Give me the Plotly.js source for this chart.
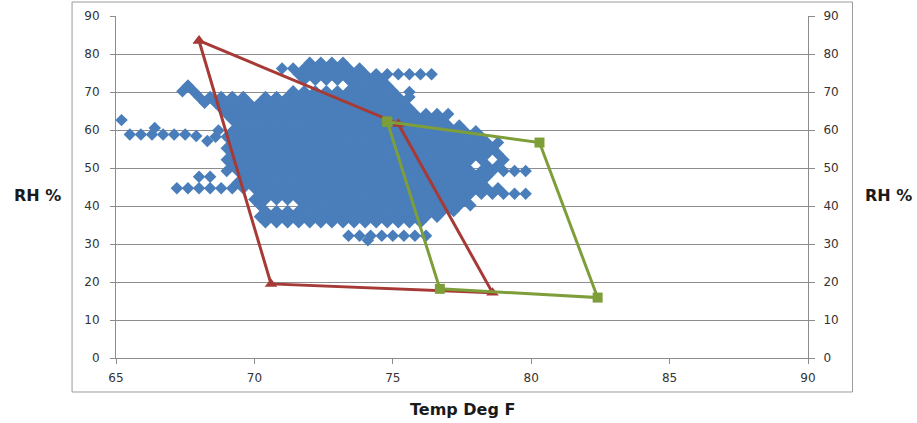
<!DOCTYPE html>
<html>
<head>
<meta charset="utf-8">
<script src="https://cdn.plot.ly/plotly-3.0.1.min.js"></script>
<style>html,body{margin:0;padding:0;background:#fff;}#chart{width:917px;height:423px;}</style>
</head>
<body>
<div id="chart"></div>
<script>
// Blue logged readings, one row per RH level: RH value and the temperatures seen at that level
const cloudRH = [77.7, 76.2, 74.7, 73.2, 71.7, 70.2, 68.7, 67.2, 65.7, 64.2, 62.7, 61.2, 59.7, 58.2, 56.7, 55.2, 53.7, 52.2, 50.7, 49.2, 47.7, 46.2, 44.7, 43.2, 41.7, 40.2, 38.7, 37.2, 35.7, 32.2];
const cloudTemps = [
  "72.0 72.4 72.8 73.2",
  "71.0 71.4 71.8 72.2 72.6 73.0 73.4 73.8",
  "71.6 72.0 72.4 72.8 73.2 73.6 74.0 74.4 74.8 75.2 75.6 76.0 76.4",
  "71.8 72.2 72.6 73.0 73.4 73.8 74.2 74.6",
  "67.6 73.6 74.0 74.4 74.8",
  "67.4 67.8 71.4 71.8 72.2 72.6 73.0 73.4 73.8 74.2 74.6 75.0",
  "68.0 68.4 68.8 69.2 69.6 70.4 70.8 71.2 71.6 72.0 72.4 72.8 73.2 73.6 74.0 74.4 74.8 75.2 75.6",
  "68.2 68.6 69.0 69.4 69.8 70.2 70.6 71.0 71.4 71.8 72.2 72.6 73.0 73.4 73.8 74.2 74.6 75.0 75.4",
  "68.8 69.2 69.6 70.0 70.4 70.8 71.2 71.6 72.0 72.4 72.8 73.2 73.6 74.0 74.4 74.8 75.2 75.6",
  "69.0 69.4 69.8 70.2 70.6 71.0 71.4 71.8 72.2 72.6 73.0 73.4 73.8 74.2 74.6 75.0 75.4 75.8 76.2 76.6 77.0",
  "69.2 69.6 70.0 70.4 70.8 71.2 71.6 72.0 72.4 72.8 73.2 73.6 74.0 74.4 74.8 75.2 75.6 76.0 76.4 76.8",
  "69.4 69.8 70.2 70.6 71.0 71.4 71.8 72.2 72.6 73.0 73.4 73.8 74.2 74.6 75.0 75.4 75.8 76.2 76.6 77.0 77.4",
  "69.2 69.6 70.0 70.4 70.8 71.2 71.6 72.0 72.4 72.8 73.2 73.6 74.0 74.4 74.8 75.2 75.6 76.0 76.4 76.8 77.2 77.6 78.0",
  "68.6 69.0 69.4 69.8 70.2 70.6 71.0 71.4 71.8 72.2 72.6 73.0 73.4 73.8 74.2 74.6 75.0 75.4 75.8 76.2 76.6 77.0 77.4 77.8 78.2",
  "69.2 69.6 70.0 70.4 70.8 71.2 71.6 72.0 72.4 72.8 73.2 73.6 74.0 74.4 74.8 75.2 75.6 76.0 76.4 76.8 77.2 77.6 78.0 78.4 78.8",
  "69.0 69.4 69.8 70.2 70.6 71.0 71.4 71.8 72.2 72.6 73.0 73.4 73.8 74.2 74.6 75.0 75.4 75.8 76.2 76.6 77.0 77.4 77.8 78.2 78.6",
  "69.2 69.6 70.0 70.4 70.8 71.2 71.6 72.0 72.4 72.8 73.2 73.6 74.0 74.4 74.8 75.2 75.6 76.0 76.4 76.8 77.2 77.6 78.0 78.4 78.8",
  "69.0 69.4 69.8 70.2 70.6 71.0 71.4 71.8 72.2 72.6 73.0 73.4 73.8 74.2 74.6 75.0 75.4 75.8 76.2 76.6 77.0 77.4 77.8 78.2 79.0",
  "69.2 69.6 70.0 70.4 70.8 71.2 71.6 72.0 72.4 72.8 73.2 73.6 74.0 74.4 74.8 75.2 75.6 76.0 76.4 76.8 77.2 77.6 78.4 78.8",
  "69.0 69.4 69.8 70.2 70.6 71.0 71.4 71.8 72.2 72.6 73.0 73.4 73.8 74.2 74.6 75.0 75.4 75.8 76.2 76.6 77.0 77.4 77.8 78.2 78.6 79.0 79.4 79.8",
  "68.0 68.4 69.6 70.0 70.4 70.8 71.2 71.6 72.0 72.4 72.8 73.2 73.6 74.0 74.4 74.8 75.2 75.6 76.0 76.4 76.8 77.2 77.6 78.0 78.4",
  "69.4 69.8 70.2 70.6 71.0 71.4 71.8 72.2 72.6 73.0 73.4 73.8 74.2 74.6 75.0 75.4 75.8 76.2 76.6 77.0 77.4 77.8 78.2",
  "67.2 67.6 68.0 68.4 68.8 69.2 69.6 70.0 70.4 70.8 71.2 71.6 72.0 72.4 72.8 73.2 73.6 74.0 74.4 74.8 75.2 75.6 76.0 76.4 76.8 77.2 77.6 78.0 78.4 78.8",
  "70.2 70.6 71.0 71.4 71.8 72.2 72.6 73.0 73.4 73.8 74.2 74.6 75.0 75.4 75.8 76.2 76.6 77.0 77.4 77.8 78.2 78.6 79.0 79.4 79.8",
  "70.0 70.4 70.8 71.2 71.6 72.0 72.4 72.8 73.2 73.6 74.0 74.4 74.8 75.2 75.6 76.0 76.4 76.8 77.2 77.6",
  "70.2 71.8 72.2 72.6 73.0 73.4 73.8 74.2 74.6 75.0 75.4 75.8 76.2 76.6 77.0 77.4 77.8",
  "70.4 70.8 71.2 71.6 72.0 72.4 72.8 73.2 73.6 74.0 74.4 74.8 75.2 75.6 76.0 76.4 76.8 77.2",
  "70.2 70.6 71.0 71.4 71.8 72.2 72.6 73.0 73.4 73.8 74.2 74.6 75.0 75.4 75.8 76.2 76.6",
  "70.4 70.8 71.2 71.6 72.0 72.4 72.8 73.2 73.6 74.0 74.4 74.8 75.2 75.6 76.0",
  "73.4 73.8 74.2 74.6 75.0 75.4 75.8 76.2"
];
// Isolated readings outside the rows
const extraTemp = [65.2, 66.4, 65.5, 65.9, 66.3, 66.7, 67.1, 67.5, 67.9, 68.3, 68.7, 75.6, 74.1];
const extraRH   = [62.6, 60.5, 58.8, 58.8, 58.8, 58.8, 58.8, 58.8, 58.4, 57.1, 59.9, 70.0, 31.0];

// Red comfort zone polygon (closed)
const redTemp = [68.0, 75.2, 78.6, 70.6, 68.0];
const redRH   = [83.5, 61.6, 17.2, 19.5, 83.5];
// Green comfort zone polygon (closed)
const greenTemp = [74.8, 80.3, 82.4, 76.7, 74.8];
const greenRH   = [62.2, 56.7, 15.9, 18.2, 62.2];

// Axis ticks
const xTicks = [65, 70, 75, 80, 85, 90];
const yTicks = [0, 10, 20, 30, 40, 50, 60, 70, 80, 90];

const cx = [], cy = [];
cloudRH.forEach((rh, i) => {
  cloudTemps[i].split(" ").forEach(t => { cx.push(parseFloat(t)); cy.push(rh); });
});
extraTemp.forEach((t, i) => { cx.push(t); cy.push(extraRH[i]); });

const gridCol = '#8c8c8c';
const tickFont = {family: 'DejaVu Sans, sans-serif', size: 12, color: '#333333'};
const titleFont = {family: 'DejaVu Sans, sans-serif', size: 16, color: '#1a1a1a', weight: 'bold'};

const traces = [
  {x: cx, y: cy, type: 'scatter', mode: 'markers',
   marker: {symbol: 'diamond', size: 9.6, color: '#4A7EBB', line: {width: 0}}, xaxis: 'x', yaxis: 'y'},
  {x: redTemp, y: redRH, type: 'scatter', mode: 'lines+markers',
   line: {color: '#A63A36', width: 3},
   marker: {symbol: 'triangle-up', size: 11, color: '#A63A36'}, xaxis: 'x', yaxis: 'y2'},
  {x: greenTemp, y: greenRH, type: 'scatter', mode: 'lines+markers',
   line: {color: '#7E9E3A', width: 3},
   marker: {symbol: 'square', size: 10, color: '#7E9E3A'}, xaxis: 'x', yaxis: 'y2'}
];

const layout = {
  width: 917, height: 423,
  margin: {l: 116, r: 108.5, t: 16, b: 65, pad: 0},
  paper_bgcolor: '#ffffff', plot_bgcolor: '#ffffff',
  showlegend: false, hovermode: false,
  xaxis: {range: [65, 90], tickvals: xTicks, showgrid: false, zeroline: false,
          showline: true, linecolor: gridCol, linewidth: 1,
          ticks: 'outside', ticklen: 5, tickcolor: gridCol, tickfont: tickFont, ticklabelstandoff: 4},
  yaxis: {range: [0, 90], tickvals: yTicks, showgrid: true, gridcolor: gridCol, gridwidth: 1, zeroline: false,
          showline: true, linecolor: gridCol, linewidth: 1,
          ticks: 'outside', ticklen: 5, tickcolor: gridCol, tickfont: tickFont, ticklabelstandoff: 8},
  yaxis2: {range: [0, 90], tickvals: yTicks, overlaying: 'y', side: 'right', showgrid: false, zeroline: false,
           showline: true, linecolor: gridCol, linewidth: 1,
           ticks: 'outside', ticklen: 6, tickcolor: gridCol, tickfont: tickFont, ticklabelstandoff: 6},
  shapes: [
    {type: 'rect', xref: 'paper', yref: 'paper', x0: -0.0635, x1: 1.0643, y0: -0.0994, y1: 1.0409,
     line: {color: '#9a9a9a', width: 1}, fillcolor: 'rgba(0,0,0,0)', layer: 'below'}
  ],
  annotations: [
    {text: 'RH %', xref: 'paper', yref: 'paper', x: -0.114, y: 0.474, xanchor: 'center', yanchor: 'middle',
     showarrow: false, font: titleFont},
    {text: 'RH %', xref: 'paper', yref: 'paper', x: 1.116, y: 0.474, xanchor: 'center', yanchor: 'middle',
     showarrow: false, font: titleFont},
    {text: 'Temp Deg F', xref: 'paper', yref: 'paper', x: 0.501, y: -0.152, xanchor: 'center', yanchor: 'middle',
     showarrow: false, font: titleFont}
  ]
};

Plotly.newPlot('chart', traces, layout, {displayModeBar: false, staticPlot: true});
</script>
</body>
</html>
